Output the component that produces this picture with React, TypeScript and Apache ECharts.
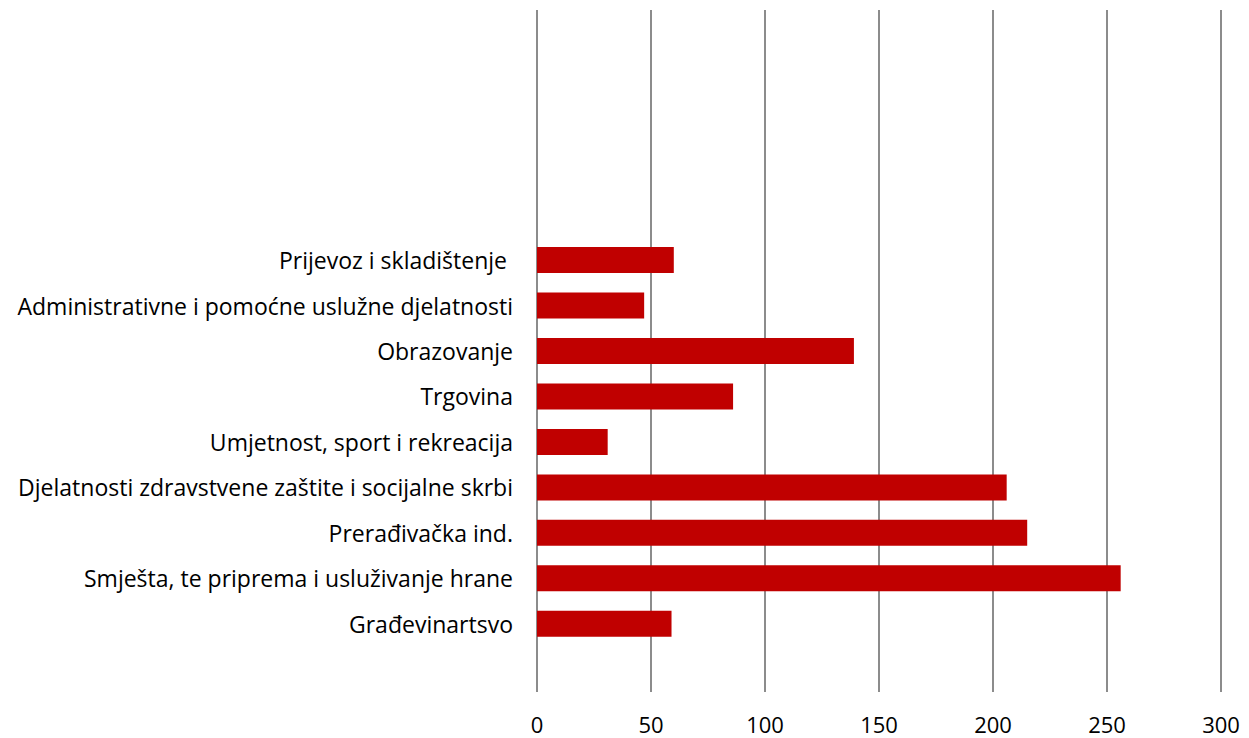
import React, { useEffect, useRef } from "react";
import * as echarts from "echarts";

// bottom-to-top order; empty slots are blank category positions
const categories = [
  "_e0",
  "Građevinartsvo",
  "Smješta, te priprema i usluživanje hrane",
  "Prerađivačka ind.",
  "Djelatnosti zdravstvene zaštite i socijalne skrbi",
  "Umjetnost, sport i rekreacija",
  "Trgovina",
  "Obrazovanje",
  "Administrativne i pomoćne uslužne djelatnosti",
  "Prijevoz i skladištenje ",
  "_e1",
  "_e2",
  "_e3",
  "_e4",
  "_e5",
];
const values = [null, 59, 256, 215, 206, 31, 86, 139, 47, 60, null, null, null, null, null];
const xTicks = [0, 50, 100, 150, 200, 250, 300];

export default function App() {
  const ref = useRef<HTMLDivElement>(null);
  useEffect(() => {
    const chart = echarts.init(ref.current!, undefined, { renderer: "svg" });
    chart.setOption({
      animation: false,
      grid: { left: 537, right: 28, top: 10, bottom: 46, containLabel: false },
      xAxis: {
        type: "value",
        min: xTicks[0],
        max: xTicks[xTicks.length - 1],
        interval: 50,
        axisLine: { show: false },
        axisTick: { show: false },
        splitLine: { show: true, lineStyle: { color: "#8c8c8c", width: 2 } },
        axisLabel: {
          color: "#000",
          fontFamily: "Open Sans",
          fontSize: 22,
          margin: 21,
        },
      },
      yAxis: {
        type: "category",
        data: categories,
        axisLine: { show: false },
        axisTick: { show: false },
        splitLine: { show: false },
        axisLabel: {
          color: "#000",
          fontFamily: "Open Sans",
          fontSize: 23,
          margin: 24,
          interval: 0,
          formatter: (v: string) => (v.startsWith("_e") ? "" : v),
        },
      },
      series: [
        {
          type: "bar",
          data: values,
          barWidth: 26,
          itemStyle: { color: "#C00000" },
        },
      ],
    });
    return () => chart.dispose();
  }, []);
  return <div ref={ref} style={{ width: 1249, height: 738, position: "absolute", left: 0, top: 0 }} />;
}
